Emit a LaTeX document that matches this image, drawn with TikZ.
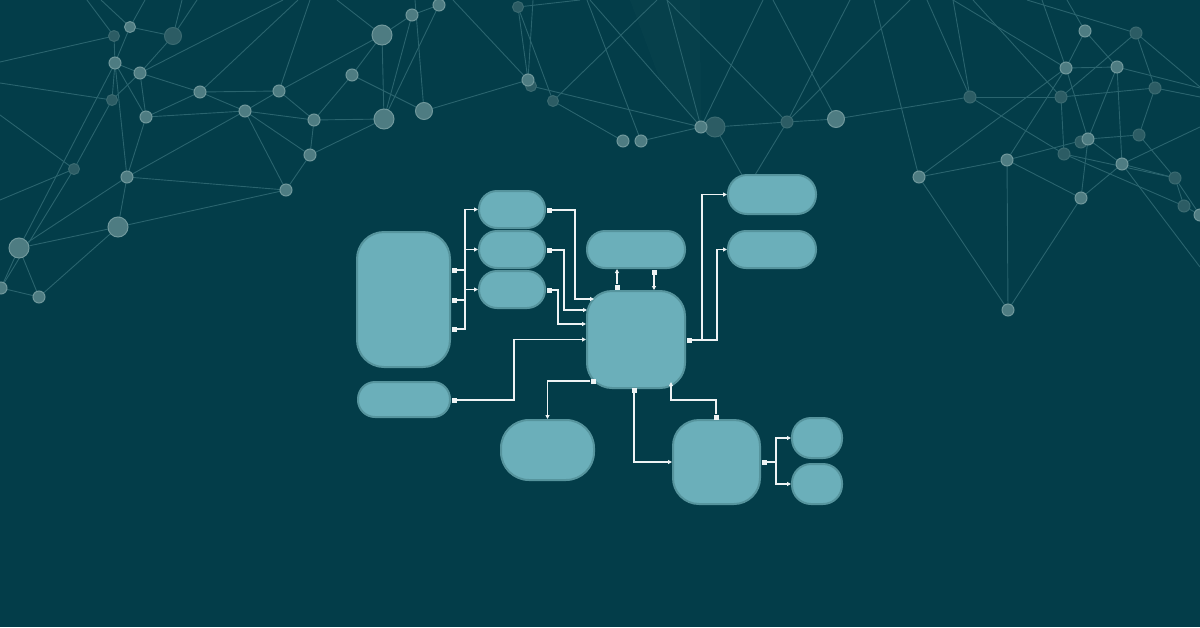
\documentclass[tikz,border=0pt]{standalone}
\usetikzlibrary{arrows.meta,calc}

\definecolor{bgteal}{RGB}{3,61,73}
\definecolor{boxfill}{RGB}{107,175,186}
\definecolor{boxedge}{RGB}{86,148,157}
\definecolor{netline}{RGB}{42,100,110}
\definecolor{dotl}{RGB}{78,124,130}
\definecolor{riml}{RGB}{112,152,156}
\definecolor{dotd}{RGB}{44,92,100}
\definecolor{rimd}{RGB}{58,106,113}
\definecolor{wire}{RGB}{238,243,244}

\tikzset{box/.style={draw=boxedge, fill=boxfill, line width=2pt, inner sep=0pt},
port/.style={fill=wire, inner sep=0pt, minimum size=5pt},
link/.style={draw=wire, line width=1.2pt, -{Triangle[length=4pt,width=4pt]}},
net/.style={draw=netline, line width=0.9pt},
dot/.style={circle, line width=1pt, inner sep=0pt}}

\newcommand\netdots{n1/114/36/11/d, n2/130/27/11/l, n3/173/36/17/d, n4/115/63/12/l,
n5/140/73/12/l, n6/112/100/11/d, n7/146/117/12/l, n8/200/92/12/l, n9/245/111/12/l,
n10/279/91/12/l, n11/314/120/12/l, n12/310/155/12/l, n13/286/190/12/l, n14/127/177/12/l,
n15/74/169/11/d, n16/118/227/20/l, n17/19/248/20/l, n18/39/297/12/l, n19/1/288/12/l,
n20/352/75/12/l, n21/382/35/20/l, n22/412/15/12/l, n23/439/5/12/l, n24/384/119/20/l,
n25/424/111/17/l, n26/518/7/11/d, n28/531/86/11/d, n27/528/80/12/l, n29/553/101/11/d,
n30/623/141/12/l, n31/641/141/12/l, n33/715/127/20/d, n32/701/127/12/l, n34/787/122/12/d,
n35/836/119/17/l, n36/919/177/12/l, n37/970/97/12/d, n38/1007/160/12/l, n39/1008/310/12/l,
n40/1085/31/12/l, n41/1136/33/12/d, n42/1066/68/12/l, n43/1117/67/12/l, n44/1061/97/12/d,
n45/1155/88/12/d, n47/1081/142/12/d, n46/1088/139/12/l, n48/1064/154/12/d, n49/1139/135/12/d,
n50/1122/164/12/l, n51/1081/198/12/l, n52/1175/178/12/d, n53/1184/206/12/d, n54/1200/215/12/l}

\newcommand\netends{e1/0/62, e2/87/0, e3/101/0, e4/145/0, e5/182/0, e6/197/0, e7/283/0,
e8/0/83, e9/298/0, e10/310/0, e11/0/115, e12/0/200, e13/337/0, e14/453/0, e15/533/0,
e16/580/0, e17/587/0, e18/657/0, e19/590/0, e20/667/0, e21/763/0, e22/773/0, e23/850/0,
e24/910/0, e25/755/175, e26/742/175, e27/874/0, e28/953/0, e29/927/0,
e31/1067/0, e32/1027/0, e33/1200/87, e35/1042/0, e36/973/0, e37/1200/88, e38/1200/97,
e39/1200/127, e40/1200/267, e43/415/0}

\begin{document}
\begin{tikzpicture}[x=1pt, y=-1pt]
    \useasboundingbox (0,0) rectangle (1200,627);
    \clip (0,0) rectangle (1200,627);
    \fill[bgteal] (0,0) rectangle (1200,627);
    \fill[white, opacity=0.015] (630,0) -- (700,0) -- (701,127) -- (660,80) -- cycle;

    % background network
    \foreach \n/\x/\y/\s/\k in \netdots {\coordinate (\n) at (\x,\y);}
    \foreach \n/\x/\y in \netends {\coordinate (\n) at (\x,\y);}
    \foreach \a/\b in {n1/e1, n1/e2, n2/e3, n2/e4, n3/e5, n3/e6, n1/n4, n2/n4, n2/n3,
        n4/n5, n4/n7, n4/n14, n4/n17, n4/n6, n5/n3, n5/e7, n5/n8, n5/n7, n6/e8, n6/n5,
        n6/n15, n7/n8, n7/n9, n7/n14, n8/n10, n8/n9, n8/e9, n9/n10, n9/n11, n9/n12,
        n9/n13, n9/n14, n10/n11, n10/e10, n10/n21, n11/n12, n11/n24, n11/n20, n12/n13,
        n12/n24, n14/n13, n14/n16, n14/n17, n15/e11, n15/e12, n15/n19, n16/n13, n16/n17,
        n16/n18, n17/n18, n17/n19, n19/n18,
        n20/n21, n20/n25, n21/n22, n21/n24, n21/e13, n22/n23, n22/n24, n25/e43, n23/n24,
        n25/n27, n27/e14, n26/n27, n26/e16, n27/e15, n26/n29, n28/n32, n29/n30, n29/e18,
        n31/e17, n32/e19, n32/e20, n34/e20, n32/e21, n35/e22, n34/e23, n34/e24, n34/e25,
        n33/e26, n31/n32, n32/n33, n33/n34, n34/n35, n35/n37,
        n36/e27, n36/n42, n36/n38, n36/n39, n37/e28, n37/e29, n37/n44, n37/n48,
        n38/n39, n38/n42, n38/n46, n38/n51, n39/n51, n40/n42, n40/n43, n40/e31, n41/e32,
        n41/n44, n41/n45, n41/e33, n42/n43, n42/e28, n42/e35, n42/n46, n43/n46, n43/n50,
        n43/e37, n44/n45, n44/n48, n44/e36, n45/n49, n45/e38, n46/n49, n46/n50, n46/n51,
        n48/n52, n48/n53, n50/n51, n50/n52, n50/e39, n50/e40, n52/n53, n52/n54, n53/n54,
        n49/n52}
        \draw[net] (\a) -- (\b);
    \foreach \n/\x/\y/\s/\k in \netdots
        \node[dot, minimum size=\s, fill=dot\k, draw=rim\k] (d\n) at (\n) {};

    % boxes
    \node[box, minimum width=93, minimum height=135, rounded corners=27] (inbox) at (403.5,299.5) {};
    \node[box, minimum width=92, minimum height=35, rounded corners=17] (inlow) at (404,399.5) {};
    \node[box, minimum width=66, minimum height=37, rounded corners=18] (step1) at (512,209.5) {};
    \node[box, minimum width=66, minimum height=37, rounded corners=18] (step2) at (512,249.5) {};
    \node[box, minimum width=66, minimum height=37, rounded corners=18] (step3) at (512,289.5) {};
    \node[box, minimum width=98, minimum height=37, rounded corners=18] (top) at (636,249.5) {};
    \node[box, minimum width=98, minimum height=97, rounded corners=25] (hub) at (636,339.5) {};
    \node[box, minimum width=88, minimum height=39, rounded corners=19] (out1) at (772,194.5) {};
    \node[box, minimum width=88, minimum height=37, rounded corners=18] (out2) at (772,249.5) {};
    \node[box, minimum width=93, minimum height=60, rounded corners=28] (low) at (547.5,450) {};
    \node[box, minimum width=87, minimum height=84, rounded corners=26] (sub) at (716.5,462) {};
    \node[box, minimum width=50, minimum height=40, rounded corners=19] (leaf1) at (817,438) {};
    \node[box, minimum width=50, minimum height=40, rounded corners=19] (leaf2) at (817,484) {};

    % ports
    \node[port] (pA1) at (454,270) {};
    \node[port] (pA2) at (454,300) {};
    \node[port] (pA3) at (454,329) {};
    \node[port] (pB) at (454,400) {};
    \node[port] (pC1) at (549,210) {};
    \node[port] (pC2) at (549,250) {};
    \node[port] (pC3) at (549,290) {};
    \node[port] (pE1) at (617,287) {};
    \node[port] (pD) at (654,272) {};
    \node[port] (pE2) at (689,340) {};
    \node[port] (pE3) at (593,381) {};
    \node[port] (pE4) at (634,390) {};
    \node[port] (pH) at (716,417) {};
    \node[port] (pH2) at (764,462) {};

    % connectors
    \draw[link] (pA1) -- ++(11,0) |- (step1);
    \draw[link] (pA2) -- ++(11,0) |- (step2);
    \draw[link] (pA3) -- ++(11,0) |- (step3);
    \draw[link] (pC1) -- ++(26,0) |- ($(hub.west)+(8,-40.5)$);
    \draw[link] (pC2) -- ++(15,0) |- ($(hub.west)+(1,-29.5)$);
    \draw[link] (pC3) -- ++(9,0) |- ($(hub.west)+(0,-15.5)$);
    \draw[link] (pB) -- ++(60,0) |- (hub);
    \draw[link] (pE1) -- (pE1 |- top.south);
    \draw[link] (pD) -- (pD |- hub.north);
    \draw[link] (pE2) -- ++(13,0) |- (out1);
    \draw[link] (pE2) -- ++(28,0) |- (out2);
    \draw[link] (pE3) -| (low);
    \draw[link] (pE4) |- (sub);
    \draw[link] (pH) -- ++(0,-17) -| ($(hub.south)+(35,-7)$);
    \draw[link] (pH2) -- ++(12,0) |- (leaf1);
    \draw[link] (pH2) -- ++(12,0) |- (leaf2);
\end{tikzpicture}
\end{document}
